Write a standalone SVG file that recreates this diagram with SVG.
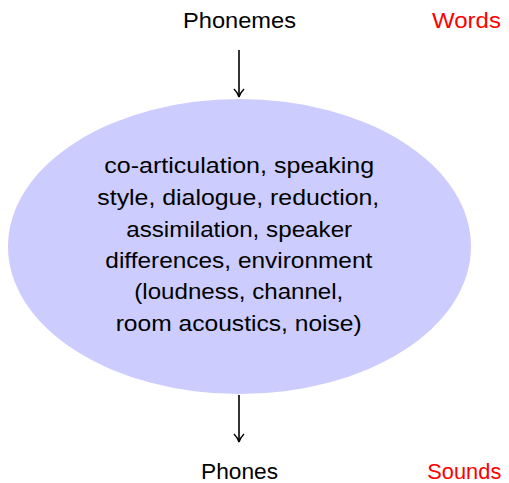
<svg xmlns="http://www.w3.org/2000/svg" width="509" height="483" viewBox="0 0 509 483">
<style>
text{font-family:"Liberation Sans",Arial,sans-serif;font-size:22px;fill:#000;text-anchor:middle}
.red{fill:#ff0000}
.conn{stroke:#000;stroke-width:1.6;fill:none}
</style>
<defs>
<marker id="arr" markerWidth="12" markerHeight="12" refX="10" refY="6" orient="auto" markerUnits="userSpaceOnUse">
<path d="M2,1 Q6,5 10,6 Q6,7 2,11" fill="none" stroke="#000" stroke-width="1.4"/>
</marker>
</defs>
<g id="phonemes"><text x="239.5" y="28" textLength="113" lengthAdjust="spacingAndGlyphs">Phonemes</text></g>
<g id="words"><text class="red" x="466.5" y="28" textLength="69" lengthAdjust="spacingAndGlyphs">Words</text></g>
<g id="process">
<ellipse cx="239.5" cy="246.5" rx="231.5" ry="147.5" fill="#ccccff"/>
<text x="239.2" y="173" textLength="270" lengthAdjust="spacingAndGlyphs">co-articulation, speaking</text>
<text x="238.3" y="205" textLength="282" lengthAdjust="spacingAndGlyphs">style, dialogue, reduction,</text>
<text x="239.2" y="237" textLength="226" lengthAdjust="spacingAndGlyphs">assimilation, speaker</text>
<text x="238.8" y="268" textLength="267" lengthAdjust="spacingAndGlyphs">differences, environment</text>
<text x="238.8" y="299" textLength="209" lengthAdjust="spacingAndGlyphs">(loudness, channel,</text>
<text x="238.7" y="331" textLength="246" lengthAdjust="spacingAndGlyphs">room acoustics, noise)</text>
</g>
<g id="phones"><text x="239.5" y="479" textLength="77" lengthAdjust="spacingAndGlyphs">Phones</text></g>
<g id="sounds"><text class="red" x="464.3" y="479" textLength="74" lengthAdjust="spacingAndGlyphs">Sounds</text></g>
<g id="connectors">
<line class="conn" x1="239" y1="50" x2="239" y2="97" marker-end="url(#arr)"/>
<line class="conn" x1="239" y1="395" x2="239" y2="442" marker-end="url(#arr)"/>
</g>
</svg>
